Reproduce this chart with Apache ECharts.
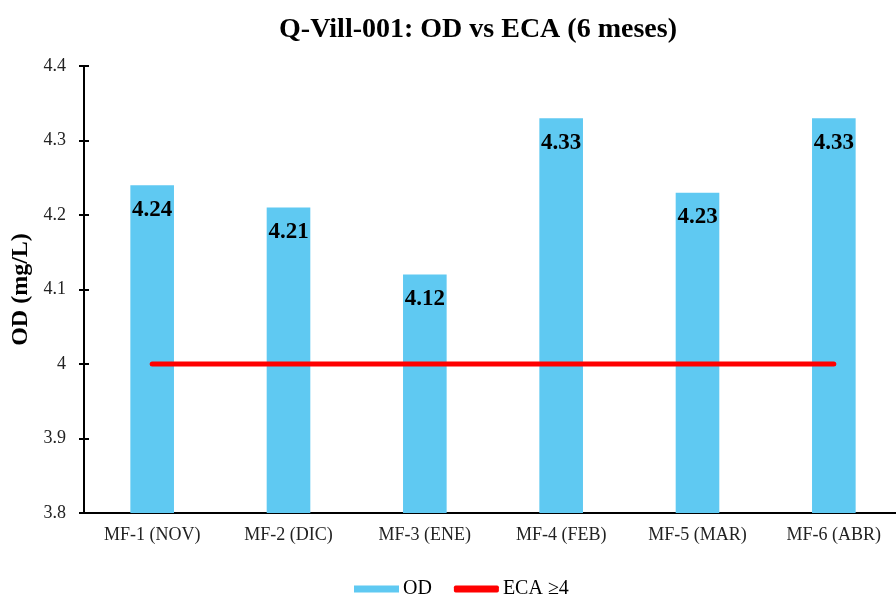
<!DOCTYPE html>
<html>
<head>
<meta charset="utf-8">
<script src="https://cdn.jsdelivr.net/npm/echarts@6/dist/echarts.min.js"></script>
<style>
  html, body { margin: 0; padding: 0; background: #fff; }
  #main { width: 896px; height: 597px; }
</style>
</head>
<body>
<div id="main"></div>
<script>
const categories = ['MF-1 (NOV)', 'MF-2 (DIC)', 'MF-3 (ENE)', 'MF-4 (FEB)', 'MF-5 (MAR)', 'MF-6 (ABR)'];
const odValues = [4.24, 4.21, 4.12, 4.33, 4.23, 4.33];
const ecaValues = [4, 4, 4, 4, 4, 4];
const yTicks = [3.8, 3.9, 4, 4.1, 4.2, 4.3, 4.4];

const serif = '"Liberation Serif", "Times New Roman", serif';
const barColor = '#5fc9f2';
const lineColor = '#ff0000';

const chart = echarts.init(document.getElementById('main'));

const option = {
  backgroundColor: '#fff',
  animation: false,
  title: {
    text: 'Q-Vill-001: OD vs ECA (6 meses)',
    left: 473,
    textAlign: 'center',
    top: 11,
    textStyle: { fontFamily: serif, fontSize: 28, fontWeight: 'bold', color: '#000' }
  },
  legend: {
    top: 574,
    left: 349,
    itemGap: 22,
    itemWidth: 45,
    itemHeight: 7,
    textStyle: { fontFamily: serif, fontSize: 20, color: '#000', padding: [0, 0, 0, -1] },
    data: [
      { name: 'OD', icon: 'rect' },
      { name: 'ECA ≥4', icon: 'roundRect' }
    ]
  },
  grid: { left: 84, top: 66, bottom: 84, right: -6, containLabel: false, outerBoundsMode: 'none' },
  xAxis: {
    type: 'category',
    data: categories,
    axisLine: { lineStyle: { color: '#000', width: 2 } },
    axisTick: { show: false },
    axisLabel: { fontFamily: serif, fontSize: 18, color: '#222', margin: 13 }
  },
  yAxis: [
    {
      type: 'value',
      min: yTicks[0],
      max: yTicks[yTicks.length - 1],
      interval: 0.1,
      name: 'OD (mg/L)',
      nameLocation: 'middle',
      nameGap: 46,
      nameRotate: 90,
      nameTextStyle: { fontFamily: serif, fontSize: 24, fontWeight: 'bold', color: '#000' },
      splitLine: { show: false },
      axisLine: { show: true, lineStyle: { color: '#000', width: 2 } },
      axisTick: { show: true, inside: true, length: 5, lineStyle: { color: '#000', width: 2 } },
      axisLabel: {
        fontFamily: serif, fontSize: 18, color: '#222', margin: 18,
        formatter: function (v) { return String(Math.round(v * 10) / 10); }
      }
    },
    {
      type: 'value',
      position: 'left',
      min: yTicks[0],
      max: yTicks[yTicks.length - 1],
      interval: 0.1,
      splitLine: { show: false },
      axisLine: { show: false },
      axisTick: { show: true, inside: false, length: 5, lineStyle: { color: '#000', width: 2 } },
      axisLabel: { show: false }
    }
  ],
  series: [
    {
      name: 'OD',
      type: 'bar',
      data: odValues,
      barWidth: '32%',
      itemStyle: { color: barColor },
      label: {
        show: true,
        position: 'insideTop',
        distance: 13,
        fontFamily: serif,
        fontSize: 23,
        fontWeight: 'bold',
        color: '#000',
        formatter: function (p) { return p.value.toFixed(2); }
      }
    },
    {
      name: 'ECA ≥4',
      type: 'line',
      data: ecaValues,
      symbol: 'none',
      z: 5,
      lineStyle: { color: lineColor, width: 5, cap: 'round' },
      itemStyle: { color: lineColor }
    }
  ]
};

chart.setOption(option);
</script>
</body>
</html>
